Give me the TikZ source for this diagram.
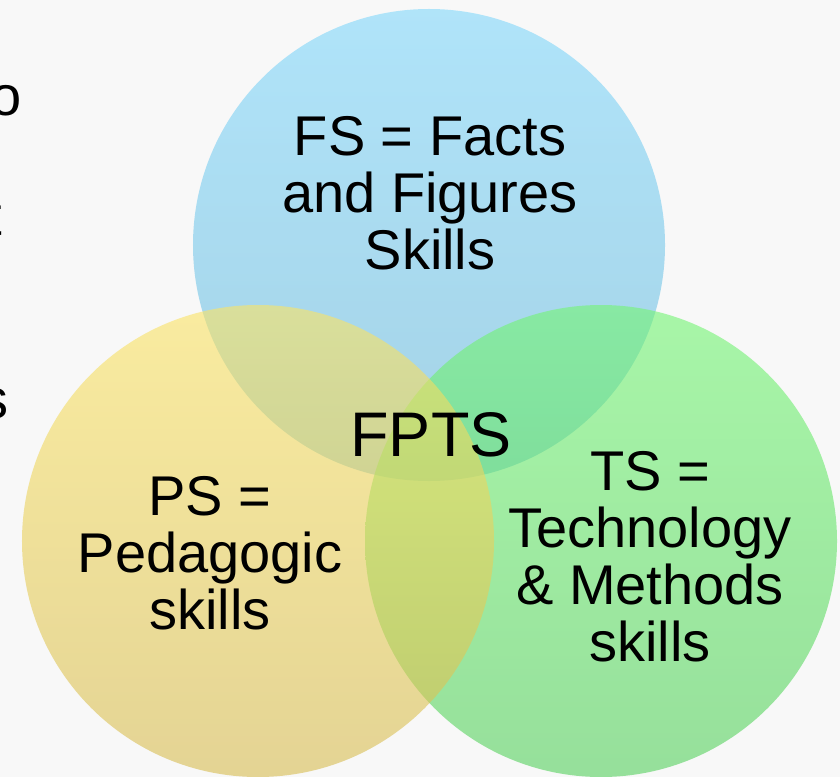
\documentclass[tikz,border=0pt]{standalone}
\usepackage{fontspec}
\setmainfont{Liberation Sans}
\usetikzlibrary{shadings}

% set colours, top and bottom of each shading
\definecolor{bgcolor}{RGB}{248,248,248}
\definecolor{fstop}{RGB}{128,215,251}
\definecolor{fsbottom}{RGB}{108,185,218}
\definecolor{pstop}{RGB}{251,228,101}
\definecolor{psbottom}{RGB}{215,188,81}
\definecolor{tstop}{RGB}{115,245,115}
\definecolor{tsbottom}{RGB}{85,208,93}

\begin{document}
\begin{tikzpicture}[x=1bp, y=-1bp, inner sep=0mm,
		setstyle/.style={circle, draw=none, fill opacity=0.6, minimum size=472bp},
		labelstyle/.style={align=center, font=\fontsize{56bp}{57bp}\selectfont}]

		\useasboundingbox (0,0) rectangle (840,777);
		\clip (0,0) rectangle (840,777);
		\fill [bgcolor] (0,0) rectangle (840,777);

		% the three sets
		\node [setstyle, top color=fstop, bottom color=fsbottom] (fsset) at (429,245) {};
		\node [setstyle, top color=tstop, bottom color=tsbottom] (tsset) at (601,541) {};
		\node [setstyle, top color=pstop, bottom color=psbottom] (psset) at (258,541) {};

		% labels
		\node [labelstyle] (fs) at (430,193) {FS = Facts\\and Figures\\Skills};
		\node [labelstyle] (ps) at (210,553) {PS =\\Pedagogic\\skills};
		\node [labelstyle] (ts) at (650,557) {TS =\\Technology\\\& Methods\\skills};
		\node [labelstyle, font=\fontsize{63bp}{63bp}\selectfont] (fpts) at (431,435) {FPTS};

		% words cut off at the left edge
		\node [labelstyle, anchor=base east] (lefto) at (22,115) {o};
		\node [labelstyle, anchor=base east] (leftt) at (2,235) {t};
		\node [labelstyle, anchor=base east] (lefts) at (9,418) {s};
\end{tikzpicture}
\end{document}
